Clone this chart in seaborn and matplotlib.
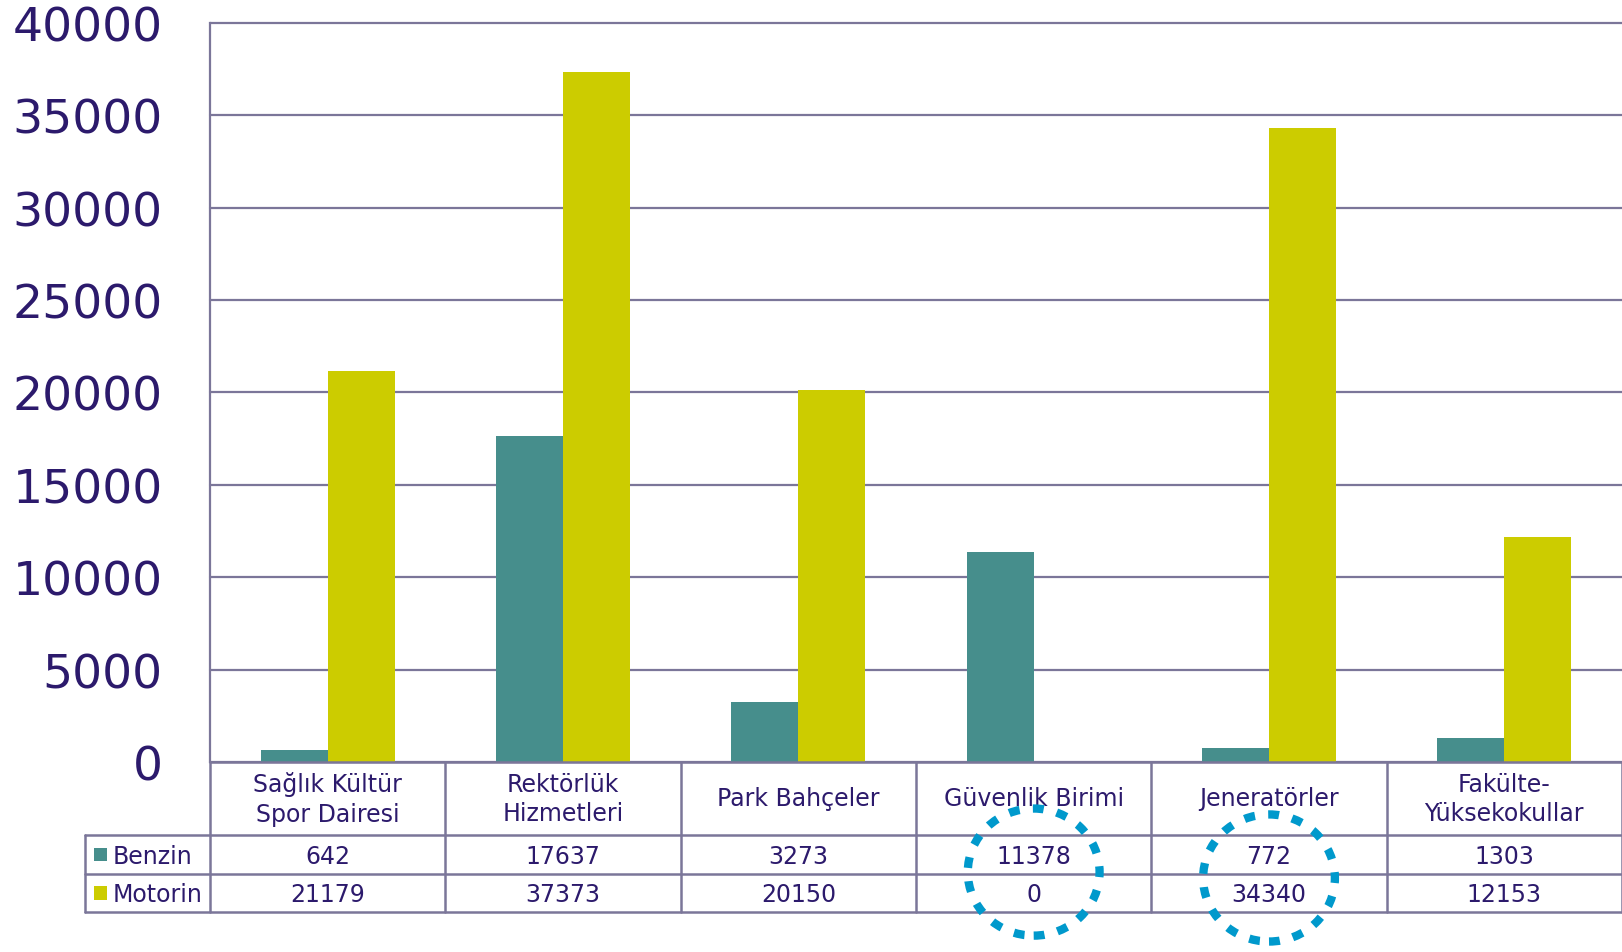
import pandas as pd
import matplotlib.pyplot as plt
import matplotlib.transforms as mtransforms
from matplotlib.patches import Ellipse, Rectangle
import seaborn as sns

# ------------------------------------
# DATA
# ------------------------------------

categories = [
    "Sağlık Kültür\nSpor Dairesi",
    "Rektörlük\nHizmetleri",
    "Park Bahçeler",
    "Güvenlik Birimi",
    "Jeneratörler",
    "Fakülte-\nYüksekokullar",
]
benzin = [642, 17637, 3273, 11378, 772, 1303]
motorin = [21179, 37373, 20150, 0, 34340, 12153]
series_names = ["Benzin", "Motorin"]
yticks = [0, 5000, 10000, 15000, 20000, 25000, 30000, 35000, 40000]
highlighted = ["Güvenlik Birimi", "Jeneratörler"]

colors = ["#468E8C", "#CCCC00"]
text_color = "#2C1A6C"
line_color = "#7B7699"

df = pd.DataFrame({
    "Birim": categories * 2,
    "Yakıt": ["Benzin"] * len(categories) + ["Motorin"] * len(categories),
    "Litre": benzin + motorin,
})

# ------------------------------------
# FIGURE
# ------------------------------------

sns.set_style("white")
plt.rcParams["font.family"] = ["DejaVu Sans"]

fig = plt.figure(figsize=(16.22, 9.53), dpi=100)
ax = fig.add_axes([0.1295, 0.1994, 0.8705, 0.7754])

sns.barplot(
    data=df,
    x="Birim",
    y="Litre",
    hue="Yakıt",
    order=categories,
    hue_order=series_names,
    palette=colors,
    width=0.57,
    saturation=1,
    linewidth=0,
    legend=False,
    ax=ax,
)

ax.set_xlim(-0.5, len(categories) - 0.5)
ax.set_ylim(0, 40000)
ax.set_yticks(yticks)
ax.set_yticklabels([str(t) for t in yticks], fontsize=34, color=text_color)
ax.tick_params(axis="y", length=0, pad=34)
ax.set_xticks([])
ax.set_xlabel("")
ax.set_ylabel("")

ax.set_axisbelow(True)
ax.yaxis.grid(True, color=line_color, linewidth=1.6)
for gl in ax.get_ygridlines():
    gl.set_clip_on(False)
for side in ["top", "right", "bottom"]:
    ax.spines[side].set_visible(False)
ax.spines["left"].set_color(line_color)
ax.spines["left"].set_linewidth(1.6)

# ------------------------------------
# DATA TABLE UNDER THE CHART
# ------------------------------------

trans = mtransforms.blended_transform_factory(ax.transData, ax.transAxes)
n = len(categories)
x_left = -1.03
y_cat = -0.0988
y_ben = -0.1516
y_mot = -0.203

# horizontal lines
ax.plot([-0.5, n - 0.5], [0, 0], transform=trans, color=line_color, lw=1.8, clip_on=False)
for yy in [y_cat, y_ben, y_mot]:
    ax.plot([x_left, n - 0.5], [yy, yy], transform=trans, color=line_color, lw=1.8, clip_on=False)
# vertical lines
for i in range(n + 1):
    ax.plot([i - 0.5, i - 0.5], [0, y_mot], transform=trans, color=line_color, lw=1.8, clip_on=False)
ax.plot([x_left, x_left], [y_cat, y_mot], transform=trans, color=line_color, lw=1.8, clip_on=False)

fs = 17
for i, cat in enumerate(categories):
    ax.text(i, y_cat / 2, cat, transform=trans, ha="center", va="center",
            fontsize=fs, color=text_color, linespacing=1.3, clip_on=False)
    ax.text(i, (y_cat + y_ben) / 2 - 0.002, str(benzin[i]), transform=trans, ha="center",
            va="center", fontsize=fs, color=text_color, clip_on=False)
    ax.text(i, (y_ben + y_mot) / 2 - 0.002, str(motorin[i]), transform=trans, ha="center",
            va="center", fontsize=fs, color=text_color, clip_on=False)

# row labels with colour keys
for name, col, y0, y1 in [("Benzin", colors[0], y_cat, y_ben), ("Motorin", colors[1], y_ben, y_mot)]:
    yc = (y0 + y1) / 2
    ax.add_patch(Rectangle((x_left + 0.035, yc - 0.009), 0.055, 0.018, transform=trans,
                           facecolor=col, edgecolor="none", clip_on=False))
    ax.text(x_left + 0.115, yc - 0.002, name, transform=trans, ha="left", va="center",
            fontsize=fs, color=text_color, clip_on=False)

# dotted highlight circles
for name, yc in zip(highlighted, [-0.149, -0.157]):
    i = categories.index(name)
    ax.add_patch(Ellipse((i, yc), 0.56, 0.172, transform=trans, fill=False,
                         edgecolor="#0099CC", linewidth=6, linestyle=(0, (1.3, 1.6)),
                         clip_on=False, zorder=5))

fig.savefig("out.png", dpi=100)
